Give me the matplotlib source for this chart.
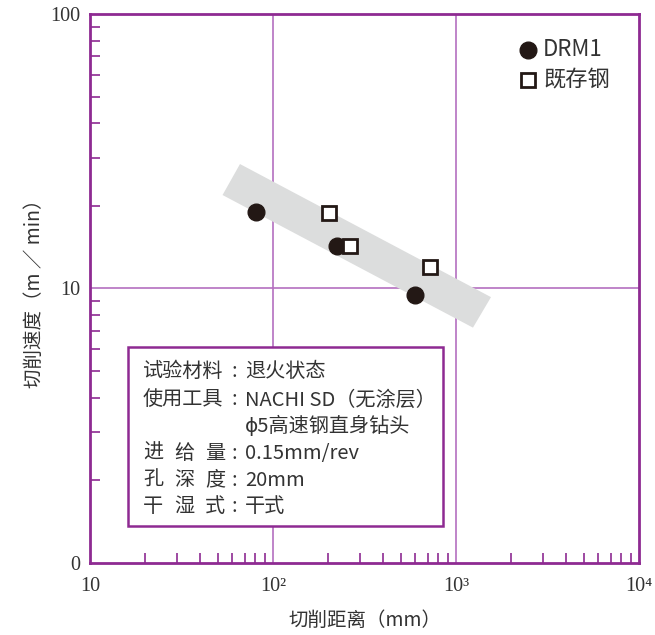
import matplotlib
matplotlib.use("Agg")
import matplotlib.pyplot as plt
from matplotlib.patches import Polygon, Rectangle
from matplotlib.ticker import FixedLocator, NullFormatter

plt.rcParams['font.family'] = ['Noto Sans CJK SC', 'DejaVu Sans']

# data
drm1_x = [81, 224, 597]
drm1_y = [19.0, 14.3, 9.5]
old_x = [202, 264, 721]
old_y = [18.9, 14.3, 12.0]
band_x = [66, 1553, 1238, 53]
band_y = [28.4, 9.3, 7.2, 21.9]

x_ticks = [10, 100, 1000, 10000]
x_labels = ["10", "10²", "10³", "10⁴"]
y_ticks = [1, 10, 100]
y_labels = ["0", "10", "100"]

info_keys = ["试验材料", "使用工具", "", "进给量", "孔深度", "干湿式"]
info_vals = ["退火状态", "NACHI SD（无涂层）", "ϕ5高速钢直身钻头", "0.15mm/rev", "20mm", "干式"]

frame_c = "#8e2a92"
grid_c = "#b46fc0"
text_c = "#333333"
serif = ['Liberation Serif', 'DejaVu Serif']

fig = plt.figure(figsize=(6.55, 6.35), dpi=100)
ax = fig.add_axes([0.1374, 0.1134, 0.8382, 0.8646])
ax.set_xscale("log")
ax.set_yscale("log")
ax.set_xlim(10, 10000)
ax.set_ylim(1, 100)

ax.add_patch(Polygon(list(zip(band_x, band_y)), closed=True,
                     facecolor="#dcdddd", edgecolor="none", zorder=1))

for v in [100, 1000]:
    ax.axvline(v, color=grid_c, lw=1.2, zorder=0.5)
ax.axhline(10, color=grid_c, lw=1.2, zorder=0.5)

ax.plot(drm1_x, drm1_y, 'o', color="#231815", ms=12, zorder=3)
ax.plot(old_x, old_y, 's', mfc="white", mec="#231815", mew=2, ms=10, zorder=3)

for s in ax.spines.values():
    s.set_color(frame_c)
    s.set_linewidth(2)

ax.xaxis.set_major_locator(FixedLocator(x_ticks))
ax.set_xticklabels(x_labels, family=serif, fontsize=14.5, color=text_c)
ax.yaxis.set_major_locator(FixedLocator(y_ticks))
ax.set_yticklabels(y_labels, family=serif, fontsize=14.5, color=text_c)
ax.xaxis.set_minor_formatter(NullFormatter())
ax.yaxis.set_minor_formatter(NullFormatter())
ax.tick_params(which="major", length=0)
ax.tick_params(axis="x", which="major", pad=10)
ax.tick_params(axis="y", which="major", pad=7)
ax.tick_params(which="minor", direction="in", length=7, width=1.2, color=frame_c)

ax.set_xlabel("切削距离（mm）", fontsize=14, color=text_c, labelpad=10)
ax.set_ylabel("切削速度（m ／ min）", fontsize=14, color=text_c, labelpad=4)

# legend drawn by hand
ax.plot([0.798], [0.935], 'o', color="#231815", ms=12, transform=ax.transAxes)
ax.text(0.825, 0.935, "DRM1", transform=ax.transAxes, fontsize=16, color=text_c, va="center")
ax.plot([0.798], [0.880], 's', mfc="white", mec="#231815", mew=2, ms=10, transform=ax.transAxes)
ax.text(0.825, 0.880, "既存钢", transform=ax.transAxes, fontsize=16, color=text_c, va="center")

# condition box
ax.add_patch(Rectangle((0.069, 0.068), 0.574, 0.326, transform=ax.transAxes,
                       facecolor="white", edgecolor=frame_c, lw=1.8, zorder=4))
row_y = [0.348, 0.297, 0.248, 0.200, 0.151, 0.103]
kl, kr = 0.0965, 0.246
fs = 14.5
for yy, k, v in zip(row_y, info_keys, info_vals):
    if len(k) == 4:
        ax.text(kl, yy, k, transform=ax.transAxes, fontsize=fs, color=text_c, va="center", zorder=5)
    elif len(k) == 3:
        for ch, xx, ha in zip(k, [kl, (kl + kr) / 2, kr], ["left", "center", "right"]):
            ax.text(xx, yy, ch, transform=ax.transAxes, fontsize=fs, color=text_c,
                    va="center", ha=ha, zorder=5)
    if k:
        ax.text(0.262, yy, ":", transform=ax.transAxes, fontsize=fs, color=text_c,
                va="center", ha="center", zorder=5)
    ax.text(0.282, yy, v, transform=ax.transAxes, fontsize=fs, color=text_c, va="center", zorder=5)

fig.savefig("out.png", dpi=100)
